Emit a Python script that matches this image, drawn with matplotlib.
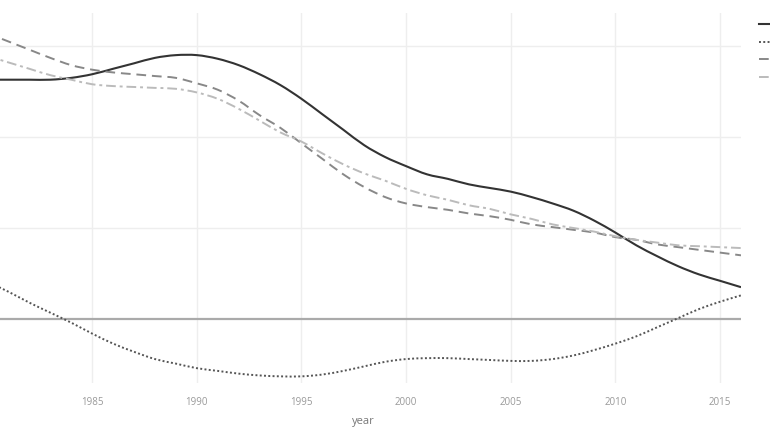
import numpy as np
import matplotlib
matplotlib.use("Agg")
import matplotlib.pyplot as plt
from matplotlib.path import Path
from matplotlib.patches import PathPatch
from matplotlib.lines import Line2D

plt.rcParams['font.family'] = ['Open Sans', 'DejaVu Sans']

# Datos (unidades de la cuadricula)
years = list(range(1980, 2017))

serie_a = [2.63, 2.63, 2.63, 2.63, 2.65, 2.69, 2.75, 2.81, 2.87, 2.90,
           2.90, 2.86, 2.79, 2.69, 2.57, 2.42, 2.25, 2.08, 1.91, 1.78,
           1.68, 1.59, 1.54, 1.48, 1.44, 1.40, 1.34, 1.27, 1.19, 1.08,
           0.95, 0.81, 0.69, 0.58, 0.49, 0.42, 0.35]

serie_b = [0.41, 0.30, 0.18, 0.07, -0.04, -0.16, -0.27, -0.36, -0.44, -0.49,
           -0.54, -0.57, -0.60, -0.62, -0.63, -0.63, -0.61, -0.57, -0.52, -0.47,
           -0.44, -0.43, -0.43, -0.44, -0.45, -0.46, -0.46, -0.44, -0.40, -0.34,
           -0.27, -0.19, -0.09, 0.01, 0.11, 0.19, 0.26]

serie_c = [3.14, 3.05, 2.96, 2.87, 2.79, 2.74, 2.71, 2.69, 2.67, 2.65,
           2.59, 2.52, 2.40, 2.24, 2.10, 1.93, 1.76, 1.59, 1.45, 1.34,
           1.27, 1.23, 1.20, 1.16, 1.13, 1.09, 1.04, 1.01, 0.98, 0.95,
           0.90, 0.87, 0.82, 0.79, 0.76, 0.73, 0.70]

serie_d = [2.89, 2.82, 2.75, 2.68, 2.63, 2.58, 2.56, 2.55, 2.54, 2.53,
           2.49, 2.42, 2.31, 2.18, 2.05, 1.95, 1.82, 1.70, 1.60, 1.52,
           1.43, 1.36, 1.31, 1.25, 1.21, 1.15, 1.10, 1.04, 1.00, 0.96,
           0.91, 0.87, 0.84, 0.81, 0.80, 0.79, 0.78]

labels = ["serie A", "serie B", "serie C", "serie D"]
xticks = [1985, 1990, 1995, 2000, 2005, 2010, 2015]


# Curva suave (como el "spline" de plotly): bezier que pasa por cada punto
def spline_path(x, y, k=1 / 6):
    x = np.asarray(x, float)
    y = np.asarray(y, float)
    verts = [(x[0], y[0])]
    codes = [Path.MOVETO]
    n = len(x)
    for i in range(n - 1):
        i0 = max(i - 1, 0)
        i3 = min(i + 2, n - 1)
        c1 = (x[i] + (x[i + 1] - x[i0]) * k, y[i] + (y[i + 1] - y[i0]) * k)
        c2 = (x[i + 1] - (x[i3] - x[i]) * k, y[i + 1] - (y[i3] - y[i]) * k)
        verts += [c1, c2, (x[i + 1], y[i + 1])]
        codes += [Path.CURVE4] * 3
    return Path(verts, codes)


estilos = [
    dict(color='#333333', lw=1.5, ls='-'),
    dict(color='#555555', lw=1.4, ls=(0, (1, 1.2))),
    dict(color='#888888', lw=1.4, ls=(0, (5, 3))),
    dict(color='#bbbbbb', lw=1.4, ls=(0, (5, 2, 1.5, 2))),
]

fig = plt.figure(figsize=(7.7, 4.3), dpi=100)
ax = fig.add_axes([-12.5 / 770, 1 - 383 / 430, 753.5 / 770, 370 / 430])

handles = []
for serie, est, lab in zip([serie_a, serie_b, serie_c, serie_d], estilos, labels):
    p = PathPatch(spline_path(years, serie), fill=False, edgecolor=est['color'],
                  lw=est['lw'], ls=est['ls'], capstyle='butt', zorder=3)
    ax.add_patch(p)
    handles.append(Line2D([], [], color=est['color'], lw=est['lw'], ls=est['ls'], label=lab))

ax.set_xlim(1980, 2016)
ax.set_ylim(-0.703, 3.363)

ax.set_xticks(xticks)
ax.set_yticks([1, 2, 3])
ax.grid(True, color='#eeeeee', lw=1)
ax.set_axisbelow(True)
ax.axhline(0, color='#aaaaaa', lw=1.6, zorder=1.5)

for s in ax.spines.values():
    s.set_visible(False)
ax.tick_params(axis='both', length=0)
ax.tick_params(axis='x', colors='#999999', labelsize=7, pad=10)
ax.set_yticklabels([])
ax.set_xlabel('year', color='#777777', fontsize=8)
ax.xaxis.set_label_coords((363 + 12.5) / 753.5, -(416 - 383) / 370)

fig.legend(handles=handles, loc='upper left', bbox_to_anchor=(759 / 770, 1 - 18.5 / 430),
           frameon=False, fontsize=9, borderpad=0, borderaxespad=0,
           labelspacing=0.36, handlelength=2.4, handletextpad=0.5)

fig.savefig('out.png', dpi=100)
